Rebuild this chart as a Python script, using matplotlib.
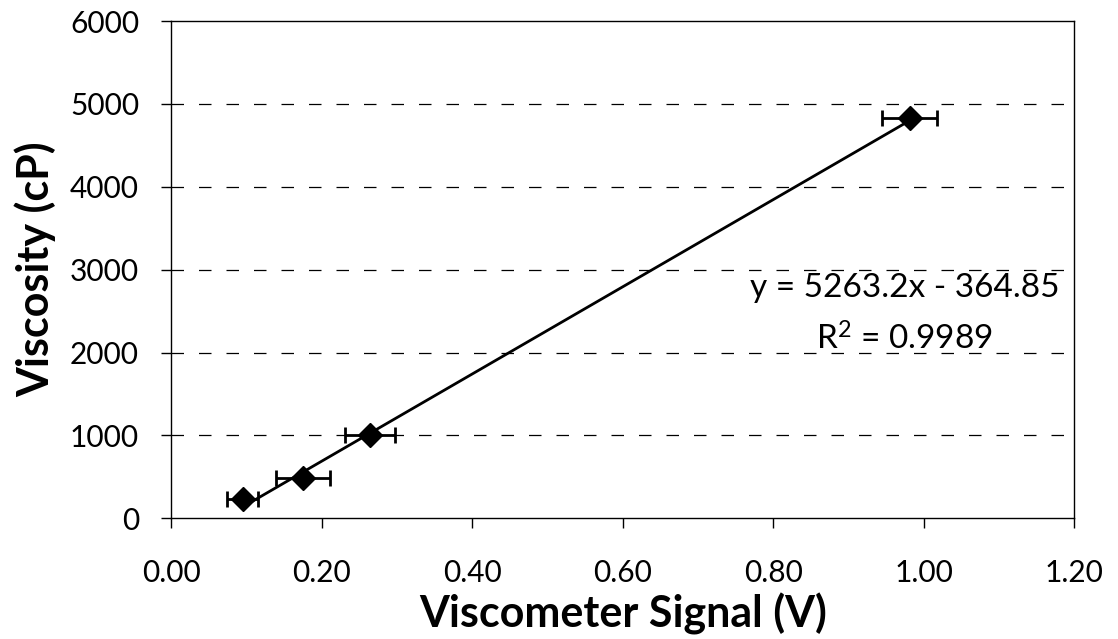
import numpy as np
import matplotlib
matplotlib.use("Agg")
import matplotlib.pyplot as plt

# data
signal = [0.095, 0.175, 0.264, 0.981]          # V
viscosity = [230, 490, 1000, 4830]             # cP
signal_err = [0.021, 0.036, 0.033, 0.036]
slope, intercept = 5263.2, -364.85
r_squared = 0.9989
x_ticks = [0.0, 0.2, 0.4, 0.6, 0.8, 1.0, 1.2]
y_ticks = [0, 1000, 2000, 3000, 4000, 5000, 6000]

plt.rcParams['font.family'] = ['Lato', 'DejaVu Sans']

fig = plt.figure(figsize=(11.18, 6.39), dpi=100)
ax = fig.add_axes([0.153, 0.189, 0.808, 0.778])

# dashed major gridlines
for yv in y_ticks[1:-1]:
    ax.axhline(yv, color='black', lw=0.9, dashes=(10, 12), zorder=1)

# linear trendline over data range
xs = np.array([min(signal), max(signal)])
ax.plot(xs, slope * xs + intercept, color='black', lw=2, zorder=2)

ax.errorbar(signal, viscosity, xerr=signal_err, fmt='D', color='black',
            ms=12, elinewidth=2, capsize=5.5, capthick=2, zorder=3)

ax.set_xlim(0, 1.2)
ax.set_ylim(0, 6000)
ax.set_xticks(x_ticks)
ax.set_xticklabels([f"{v:.2f}" for v in x_ticks])
ax.set_yticks(y_ticks)
ax.tick_params(direction='out', length=7, width=1, labelsize=21.5)
ax.tick_params(axis='x', pad=22)
ax.tick_params(axis='y', pad=16)
for s in ax.spines.values():
    s.set_linewidth(1)

ax.set_xlabel('Viscometer Signal (V)', fontsize=31, fontweight='bold')
ax.set_ylabel('Viscosity (cP)', fontsize=31, fontweight='bold')
ax.xaxis.set_label_coords(0.5, -0.193)
ax.xaxis.label.set_va('center')
ax.yaxis.set_label_coords(-0.150, 0.5)
ax.yaxis.label.set_va('center')

# trendline equation
ax.text(0.974, 2675, f"y = {slope}x - {abs(intercept)}", fontsize=24,
        ha='center', va='baseline')
ax.text(0.974, 2036, f"$\\mathregular{{R^2}}$ = {r_squared}", fontsize=24,
        ha='center', va='baseline')

fig.savefig('out.png', dpi=100)
